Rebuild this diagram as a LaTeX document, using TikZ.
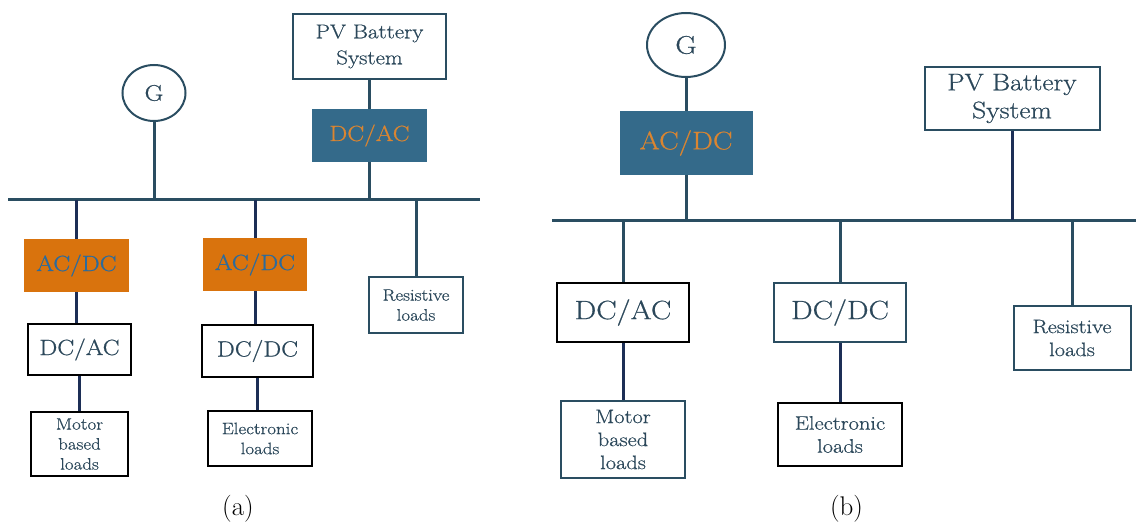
\documentclass[tikz,border=0pt]{standalone}
\usepackage{fontspec}
\usepackage{xcolor}
\usetikzlibrary{shapes.geometric}
\newfontfamily\widerm{Latin Modern Roman}[FakeStretch=1.15, FakeBold=0.6]
\definecolor{linecol}{HTML}{2A4D61}
\definecolor{navycol}{HTML}{1C2E56}
\definecolor{convblue}{HTML}{346A8A}
\definecolor{convorange}{HTML}{D9730D}
\definecolor{txtorange}{HTML}{DB8530}
\definecolor{txtblue}{HTML}{2A6B9E}
\definecolor{txtcol}{HTML}{2B475A}
\newcommand{\fs}[2]{\widerm\fontsize{#1}{#2}\selectfont}

\tikzset{
  bus/.style={draw=linecol, line width=3pt},
  feed/.style={draw=linecol, line width=3pt},
  feednavy/.style={draw=navycol, line width=3pt},
  genc/.style={ellipse, draw=linecol, line width=2pt, text=txtcol, inner sep=0pt},
  bluebox/.style={fill=convblue, text=txtorange, inner sep=0pt},
  orangebox/.style={fill=convorange, text=txtblue, inner sep=0pt},
  whitebox/.style={draw=linecol, line width=2pt, fill=white, text=txtcol, align=center, inner sep=0pt},
  blackbox/.style={whitebox, draw=black, line width=2.4pt},
  caption/.style={text=black, font=\fontsize{27}{30}\selectfont}
}

\begin{document}
\begin{tikzpicture}[x=1pt, y=-1pt]
  \useasboundingbox (0,0) rectangle (1136,524);

  % ---- (a): generator on the AC bus
  \coordinate (busAL) at (8,200);
  \coordinate (busAR) at (480,200);
  \draw[bus] (busAL) -- (busAR);
  \node[genc, minimum width=63pt, minimum height=56pt, font=\fs{22.5}{24}] (genA) at (154,93) {G};
  \node[whitebox, minimum width=153pt, minimum height=65pt, font=\fs{20}{26}] (pvA) at (369.5,46.5) {PV Battery\\System};
  \node[bluebox, minimum width=115pt, minimum height=53pt, font=\fs{22}{24}] (invA) at (369.5,135.5) {DC/AC};
  \node[orangebox, minimum width=105pt, minimum height=53pt, font=\fs{22}{24}] (recA1) at (76.5,265.5) {AC/DC};
  \node[orangebox, minimum width=104pt, minimum height=53pt, font=\fs{22}{24}] (recA2) at (255,264.5) {AC/DC};
  \node[blackbox, minimum width=103pt, minimum height=51pt, font=\fs{22}{24}] (invA1) at (79.5,349.5) {DC/AC};
  \node[blackbox, minimum width=111pt, minimum height=52pt, font=\fs{22}{24}] (dcA2) at (257.5,351) {DC/DC};
  \node[blackbox, minimum width=97pt, minimum height=64pt, font=\fs{16.5}{20}] (motA) at (79.5,444) {Motor\\based\\loads};
  \node[blackbox, minimum width=104pt, minimum height=55pt, font=\fs{16.5}{20}] (eleA) at (260,438.5) {Electronic\\loads};
  \node[whitebox, minimum width=94pt, minimum height=56pt, font=\fs{16.5}{20}] (resA) at (416,305) {Resistive\\loads};

  \draw[feed] (genA.south) -- (genA.south |- busAL);
  \draw[feed] (pvA.south) -- (invA.north);
  \draw[feed] (invA.south) -- (invA.south |- busAL);
  \draw[feednavy] (recA1.north |- busAL) -- (recA1.north);
  \draw[feednavy] (recA1.south) -- (recA1.south |- invA1.north);
  \draw[feednavy] (invA1.south) -- (invA1.south |- motA.north);
  \draw[feednavy] (recA2.north |- busAL) -- (recA2.north);
  \draw[feednavy] (recA2.south) -- (recA2.south |- dcA2.north);
  \draw[feednavy] (dcA2.south) -- (dcA2.south |- eleA.north);
  \draw[feed] (resA.north |- busAL) -- (resA.north);
  \node[caption] (capA) at (238,509) {(a)};

  % ---- (b): generator behind a rectifier on the DC bus
  \coordinate (busBL) at (552,220);
  \coordinate (busBR) at (1136,220);
  \draw[bus] (busBL) -- (busBR);
  \node[genc, minimum width=78pt, minimum height=64pt, font=\fs{25.5}{27}] (genB) at (686,45) {G};
  \node[bluebox, minimum width=133pt, minimum height=64pt, font=\fs{25.5}{27}] (recB) at (686,143) {AC/DC};
  \node[whitebox, minimum width=175pt, minimum height=63pt, font=\fs{24}{28}] (pvB) at (1012,98.5) {PV Battery\\System};
  \node[blackbox, minimum width=132pt, minimum height=59pt, font=\fs{26.5}{28}] (invB1) at (623,312.5) {DC/AC};
  \node[whitebox, minimum width=132pt, minimum height=59pt, font=\fs{26.5}{28}] (dcB2) at (840,312.5) {DC/DC};
  \node[whitebox, minimum width=124pt, minimum height=77pt, font=\fs{19.5}{23}] (motB) at (623,439.5) {Motor\\based\\loads};
  \node[blackbox, minimum width=124pt, minimum height=63pt, font=\fs{19.5}{23}] (eleB) at (840,434.5) {Electronic\\loads};
  \node[whitebox, minimum width=117pt, minimum height=64pt, font=\fs{19.5}{23}] (resB) at (1072,338) {Resistive\\loads};

  \draw[feed] (genB.south) -- (recB.north);
  \draw[feed] (recB.south) -- (recB.south |- busBL);
  \draw[feednavy] (pvB.south) -- (pvB.south |- busBL);
  \draw[feed] (invB1.north |- busBL) -- (invB1.north);
  \draw[feednavy] (invB1.south) -- (motB.north);
  \draw[feed] (dcB2.north |- busBL) -- (dcB2.north);
  \draw[feednavy] (dcB2.south) -- (eleB.north);
  \draw[feed] (resB.north |- busBL) -- (resB.north);
  \node[caption] (capB) at (846.5,509) {(b)};
\end{tikzpicture}
\end{document}
